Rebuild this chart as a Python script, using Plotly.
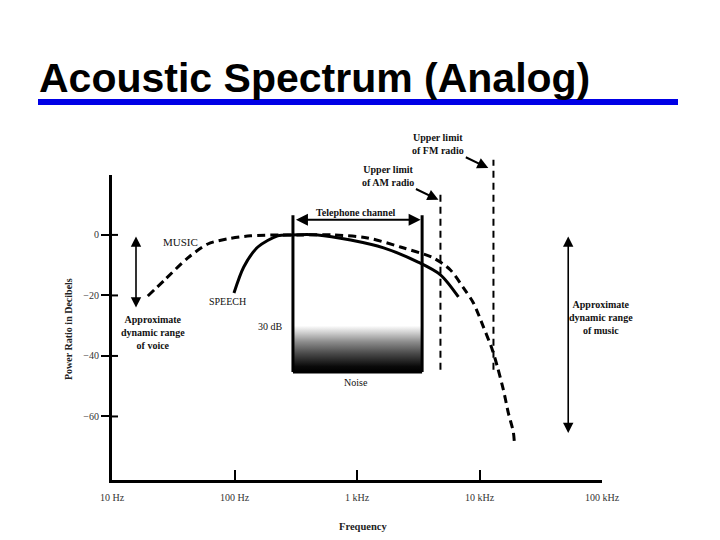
import math
import plotly.graph_objects as go

# ---------------- data ----------------
music_freq = [19.6, 27.5, 41.6, 60.5, 88, 135, 238, 347, 645, 1220, 2265, 4200,
              5790, 7400, 8920, 10760, 12740, 14000, 15670, 17190, 18880, 19240]
music_db = [-20.2, -14.5, -7.6, -3.0, -1.3, -0.3, 0, 0, 0, -1.0, -4.0, -7.6,
            -11.6, -17.5, -22.5, -30.4, -38.0, -43.6, -51.2, -58.8, -65.1, -68.4]

speech_freq = [99, 119, 155, 225, 288, 478, 887, 1650, 3120, 4800, 6730]
speech_db = [-19.2, -10.6, -4.0, -0.3, 0, 0, -1.7, -4.3, -8.9, -13.2, -20.5]

tel_band = [300, 3400]          # telephone channel (Hz)
tel_top_db = 6.5
tel_arrow_db = 5.0
noise_db = [-30, -45.3]          # noise block (top, bottom)

am_limit_freq = 4800
fm_limit_freq = 13000
am_line_db = [14.2, -44.6]
fm_line_db = [24.8, -44.6]

voice_range_freq = 15.7
voice_range_db = [0, -24]
music_range_freq = 53000
music_range_db = [0, -65.5]

x_tickvals = [10, 100, 1000, 10000, 100000]
x_ticktext = ["10 Hz", "100 Hz", "1 kHz", "10 kHz", "100 kHz"]
y_tickvals = [0, -20, -40, -60]
y_ticktext = ["0", "\u221220", "\u221240", "\u221260"]

Y_RANGE = [-81.0, 19.8]
X_RANGE = [1, 5]

# plot area geometry (page pixels); page body adds an 8px offset
PX0, PW, PYB, PH = 112, 490, 480, 305
BODY = 8


def lg(f):
    return math.log10(f)


def yp(db):
    return (db - Y_RANGE[0]) / (Y_RANGE[1] - Y_RANGE[0])


def xpap(px):
    return (px - PX0) / PW


def ypap(py):
    return (PYB - py) / PH


SERIF = "Liberation Serif"
TXT = "#111"

fig = go.Figure()

# noise block with vertical gradient
fig.add_trace(go.Scatter(
    x=[tel_band[0], tel_band[1], tel_band[1], tel_band[0], tel_band[0]],
    y=[noise_db[0], noise_db[0], noise_db[1], noise_db[1], noise_db[0]],
    mode="lines", line=dict(width=0), fill="toself",
    fillgradient=dict(type="vertical",
                      colorscale=[[0, "#000000"], [0.12, "#0a0a0a"], [0.4, "#4a4a4a"],
                                  [0.65, "#8c8c8c"], [0.85, "#cfcfcf"], [1, "#ffffff"]]),
    hoverinfo="skip", showlegend=False))

# telephone channel box sides and bottom
fig.add_trace(go.Scatter(
    x=[tel_band[0], tel_band[0], None, tel_band[1], tel_band[1], None, tel_band[0], tel_band[1]],
    y=[tel_top_db, noise_db[1], None, tel_top_db, noise_db[1], None, noise_db[1], noise_db[1]],
    mode="lines", line=dict(color="black", width=3), showlegend=False, hoverinfo="skip"))

# music (dashed)
fig.add_trace(go.Scatter(
    x=music_freq, y=music_db, mode="lines",
    line=dict(color="black", width=3, dash="8px,5px", shape="spline", smoothing=0.8),
    showlegend=False, hoverinfo="skip"))

# speech (solid)
fig.add_trace(go.Scatter(
    x=speech_freq, y=speech_db, mode="lines",
    line=dict(color="black", width=3, shape="spline", smoothing=0.8),
    showlegend=False, hoverinfo="skip"))

shapes = []
for f, dbs in [(am_limit_freq, am_line_db), (fm_limit_freq, fm_line_db)]:
    shapes.append(dict(type="line", xref="x", yref="paper", x0=f, x1=f,
                       y0=yp(dbs[1]), y1=yp(dbs[0]),
                       line=dict(color="black", width=2, dash="7px,5px")))
# inner half of the y ticks (the reference ticks cross the axis line)
for v in y_tickvals:
    shapes.append(dict(type="line", xref="paper", yref="y", x0=0, x1=6 / PW, y0=v, y1=v,
                       line=dict(color="black", width=2)))
# title underline
shapes.append(dict(type="rect", xref="paper", yref="paper",
                   x0=xpap(38), x1=xpap(678), y0=ypap(105), y1=ypap(99),
                   fillcolor="#0000E6", line=dict(width=0)))

ann = []
# title
ann.append(dict(text="<b>Acoustic Spectrum (Analog)</b>", xref="paper", yref="paper",
                x=xpap(37), y=ypap(78), xanchor="left", yanchor="middle",
                showarrow=False, font=dict(family="Liberation Sans", size=41, color="black")))


def dbl_arrow(f, db0, db1, width=1.6, size=1.3, stand=0):
    return dict(text="", xref="x", yref="y", axref="x", ayref="y",
                x=lg(f), y=db1, ax=lg(f), ay=db0, showarrow=True,
                arrowside="end+start", arrowhead=2, arrowsize=size, arrowwidth=width,
                arrowcolor="black", standoff=stand, startstandoff=stand)


ann.append(dbl_arrow(voice_range_freq, voice_range_db[0], voice_range_db[1]))
ann.append(dbl_arrow(music_range_freq, music_range_db[0], music_range_db[1]))
ann.append(dict(text="", xref="x", yref="y", axref="x", ayref="y",
                x=lg(tel_band[1]), y=tel_arrow_db, ax=lg(tel_band[0]), ay=tel_arrow_db,
                showarrow=True, arrowside="end+start", arrowhead=2, arrowsize=1.2,
                arrowwidth=2, arrowcolor="black", standoff=1.5, startstandoff=1.5))


def label(text, logf, db, size=10, bold=False):
    t = "<b>%s</b>" % text if bold else text
    return dict(text=t, xref="x", yref="paper", x=logf, y=yp(db),
                xanchor="center", yanchor="middle", showarrow=False,
                font=dict(family=SERIF, size=size, color=TXT), align="center")


ann.append(label("Approximate<br>dynamic range<br>of voice", 1.335, -32.4, bold=True))
ann.append(label("Approximate<br>dynamic range<br>of music", 4.99, -27.4, bold=True))
ann.append(label("MUSIC", 1.563, -2.3, size=11))
ann.append(label("SPEECH", 1.945, -22.0, size=10))
ann.append(label("30 dB", 2.296, -30.4, size=10))
ann.append(label("Noise", 2.99, -48.9, size=10))
ann.append(label("Telephone channel", 2.989, 7.4, bold=True))

# upper-limit callouts with arrows
for text, logf_head, db_head in [("Upper limit<br>of AM radio", 3.665, 11.6),
                                 ("Upper limit<br>of FM radio", 4.072, 22.1)]:
    ann.append(dict(text="<b>%s</b>" % text, xref="x", yref="paper",
                    x=logf_head, y=yp(db_head), ax=-50, ay=-24, showarrow=True,
                    arrowhead=2, arrowsize=1.1, arrowwidth=2, arrowcolor="black",
                    font=dict(family=SERIF, size=10, color=TXT), align="center"))

# axis titles
ann.append(dict(text="<b>Frequency</b>", xref="paper", yref="paper",
                x=xpap(363), y=ypap(526), xanchor="center", yanchor="middle",
                showarrow=False, font=dict(family=SERIF, size=10.5, color="#222")))
ann.append(dict(text="<b>Power Ratio in Decibels</b>", xref="paper", yref="paper",
                x=xpap(68), y=ypap(329), xanchor="center", yanchor="middle",
                showarrow=False, textangle=-90,
                font=dict(family=SERIF, size=10, color="#222")))

fig.update_layout(
    width=720, height=540,
    margin=dict(l=PX0 - BODY, r=720 - (PX0 - BODY) - PW,
                t=(PYB - PH) - BODY, b=540 - (PYB - BODY)),
    paper_bgcolor="white", plot_bgcolor="white",
    showlegend=False,
    shapes=shapes, annotations=ann,
    xaxis=dict(type="log", range=X_RANGE, showgrid=False, zeroline=False,
               showline=True, linecolor="black", linewidth=3,
               ticks="inside", ticklen=10, tickwidth=2, tickcolor="black",
               tickvals=x_tickvals, ticktext=x_ticktext, ticklabelstandoff=6,
               tickfont=dict(family=SERIF, size=10, color="#333")),
    yaxis=dict(range=Y_RANGE, showgrid=False, zeroline=False,
               showline=True, linecolor="black", linewidth=3,
               ticks="outside", ticklen=8, tickwidth=2, tickcolor="black",
               tickvals=y_tickvals, ticktext=y_ticktext,
               tickfont=dict(family=SERIF, size=10, color="#333")),
)

fig.write_html("out.html")
